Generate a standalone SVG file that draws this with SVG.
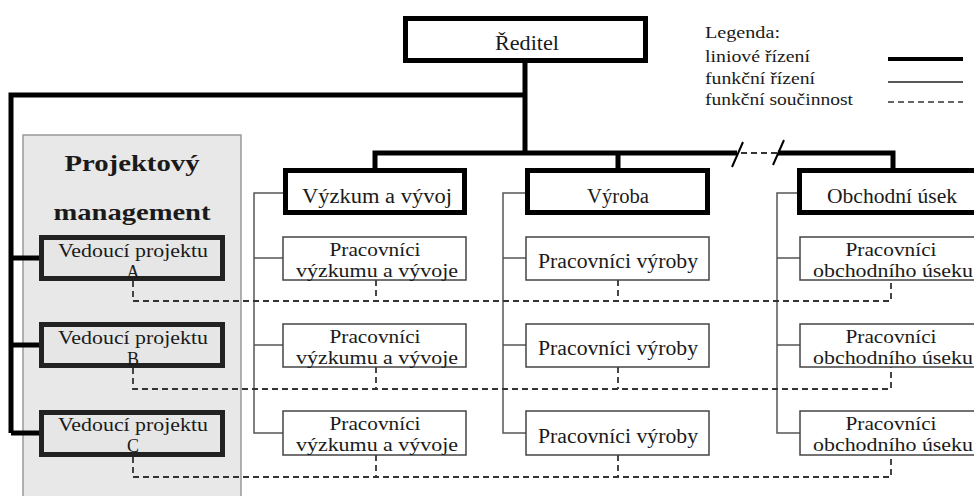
<svg xmlns="http://www.w3.org/2000/svg" width="974" height="496" viewBox="0 0 974 496">
<style>
text{font-family:"Liberation Serif","DejaVu Serif",serif;fill:#1a1a1a;text-anchor:middle}
.thick{fill:none;stroke:#000;stroke-width:5}
.thin{fill:none;stroke:#555;stroke-width:1.5}
.dash{fill:none;stroke:#333;stroke-width:1.8;stroke-dasharray:6 4}
.hbox{fill:#fff;stroke:#000;stroke-width:5}
.vbox{fill:#e6e6e6;stroke:#222;stroke-width:5}
.wbox{fill:#fff;stroke:#444;stroke-width:1.5}
.t20{font-size:20px}
.t18{font-size:18px}
.leg{font-size:16px;text-anchor:start}
.bold{font-size:24px;font-weight:bold}
</style>
<rect x="0" y="0" width="974" height="496" fill="#fff"/>
<g id="panel">
<rect x="23" y="135" width="218" height="370" fill="#e8e8e8" stroke="#999" stroke-width="1.5"/>
<text class="bold" x="132" y="171" textLength="135" lengthAdjust="spacingAndGlyphs">Projektový</text>
<text class="bold" x="132" y="220" textLength="157" lengthAdjust="spacingAndGlyphs">management</text>
</g>
<g id="connectors">
<path class="thick" d="M11,433 V95 H525 M525,62 V153 M375,170 V153 H737 M778,153 H893 V170 M618,153 V170 M11,258 H41 M11,345 H41 M11,433 H41"/>
<path class="dash" d="M741,153 H778" stroke-dasharray="5 4"/>
<path d="M732,167 L743,142 M773,165 L784,140" stroke="#000" stroke-width="2" fill="none"/>
<path class="thin" d="M285,193 H254 V433 H283 M254,258 H283 M254,345 H283"/>
<path class="thin" d="M527,193 H503 V433 H526 M503,258 H526 M503,345 H526"/>
<path class="thin" d="M799,193 H777 V433 H800 M777,258 H800 M777,345 H800"/>
<path class="dash" d="M133,281 V301 H891 V280 M376,280 V301 M618,280 V301"/>
<path class="dash" d="M133,368 V389 H891 V367 M376,367 V389 M618,367 V389"/>
<path class="dash" d="M133,457 V477 H891 V455 M376,455 V477 M618,455 V477"/>
</g>
<g id="reditel">
<rect class="hbox" x="405.5" y="18.5" width="240" height="42"/>
<text class="t20" x="527" y="50" textLength="64" lengthAdjust="spacingAndGlyphs">Ředitel</text>
</g>
<g id="vyzkum">
<rect class="hbox" x="285.5" y="170.5" width="179" height="42"/>
<text class="t20" x="377" y="203" textLength="150" lengthAdjust="spacingAndGlyphs">Výzkum a vývoj</text>
</g>
<g id="vyroba">
<rect class="hbox" x="527.5" y="170.5" width="180" height="42"/>
<text class="t20" x="618" y="203" textLength="62" lengthAdjust="spacingAndGlyphs">Výroba</text>
</g>
<g id="obchod">
<rect class="hbox" x="799.5" y="170.5" width="200" height="42"/>
<text class="t20" x="892" y="203" textLength="130" lengthAdjust="spacingAndGlyphs">Obchodní úsek</text>
</g>
<g id="vedouciA">
<rect class="vbox" x="41.5" y="237.5" width="181" height="41"/>
<text class="t18" x="133" y="257" textLength="150" lengthAdjust="spacingAndGlyphs">Vedoucí projektu</text>
<text class="t18" x="133" y="278">A</text>
</g>
<g id="vedouciB">
<rect class="vbox" x="41.5" y="324.5" width="181" height="41"/>
<text class="t18" x="133" y="344" textLength="150" lengthAdjust="spacingAndGlyphs">Vedoucí projektu</text>
<text class="t18" x="133" y="365">B</text>
</g>
<g id="vedouciC">
<rect class="vbox" x="41.5" y="412.5" width="181" height="42"/>
<text class="t18" x="133" y="431" textLength="150" lengthAdjust="spacingAndGlyphs">Vedoucí projektu</text>
<text class="t18" x="133" y="452">C</text>
</g>
<g id="vav1"><rect class="wbox" x="283" y="237" width="183" height="43"/><text class="t18" x="375" y="256" textLength="91" lengthAdjust="spacingAndGlyphs">Pracovníci</text><text class="t18" x="377" y="277" textLength="162" lengthAdjust="spacingAndGlyphs">výzkumu a vývoje</text></g>
<g id="vav2"><rect class="wbox" x="283" y="324" width="183" height="43"/><text class="t18" x="375" y="343" textLength="91" lengthAdjust="spacingAndGlyphs">Pracovníci</text><text class="t18" x="377" y="364" textLength="162" lengthAdjust="spacingAndGlyphs">výzkumu a vývoje</text></g>
<g id="vav3"><rect class="wbox" x="283" y="411" width="183" height="44"/><text class="t18" x="375" y="430" textLength="91" lengthAdjust="spacingAndGlyphs">Pracovníci</text><text class="t18" x="377" y="451" textLength="162" lengthAdjust="spacingAndGlyphs">výzkumu a vývoje</text></g>
<g id="vyr1"><rect class="wbox" x="526" y="237" width="183" height="43"/><text class="t20" x="618" y="268" textLength="160" lengthAdjust="spacingAndGlyphs">Pracovníci výroby</text></g>
<g id="vyr2"><rect class="wbox" x="526" y="324" width="183" height="43"/><text class="t20" x="618" y="355" textLength="160" lengthAdjust="spacingAndGlyphs">Pracovníci výroby</text></g>
<g id="vyr3"><rect class="wbox" x="526" y="411" width="183" height="44"/><text class="t20" x="618" y="443" textLength="160" lengthAdjust="spacingAndGlyphs">Pracovníci výroby</text></g>
<g id="obc1"><rect class="wbox" x="800" y="237" width="180" height="43"/><text class="t18" x="891" y="256" textLength="91" lengthAdjust="spacingAndGlyphs">Pracovníci</text><text class="t18" x="893" y="277" textLength="160" lengthAdjust="spacingAndGlyphs">obchodního úseku</text></g>
<g id="obc2"><rect class="wbox" x="800" y="324" width="180" height="43"/><text class="t18" x="891" y="343" textLength="91" lengthAdjust="spacingAndGlyphs">Pracovníci</text><text class="t18" x="893" y="364" textLength="160" lengthAdjust="spacingAndGlyphs">obchodního úseku</text></g>
<g id="obc3"><rect class="wbox" x="800" y="411" width="180" height="44"/><text class="t18" x="891" y="430" textLength="91" lengthAdjust="spacingAndGlyphs">Pracovníci</text><text class="t18" x="893" y="451" textLength="160" lengthAdjust="spacingAndGlyphs">obchodního úseku</text></g>
<g id="legend">
<text class="leg" x="705" y="38" textLength="75" lengthAdjust="spacingAndGlyphs">Legenda:</text>
<text class="leg" x="705" y="62" textLength="105" lengthAdjust="spacingAndGlyphs">liniové řízení</text>
<text class="leg" x="705" y="84" textLength="110" lengthAdjust="spacingAndGlyphs">funkční řízení</text>
<text class="leg" x="705" y="105" textLength="148" lengthAdjust="spacingAndGlyphs">funkční součinnost</text>
<line x1="888" y1="59" x2="963" y2="59" stroke="#000" stroke-width="4"/>
<line x1="888" y1="82" x2="963" y2="82" stroke="#222" stroke-width="1.5"/>
<line x1="888" y1="102" x2="963" y2="102" stroke="#333" stroke-width="1.5" stroke-dasharray="6 4"/>
</g>
</svg>
